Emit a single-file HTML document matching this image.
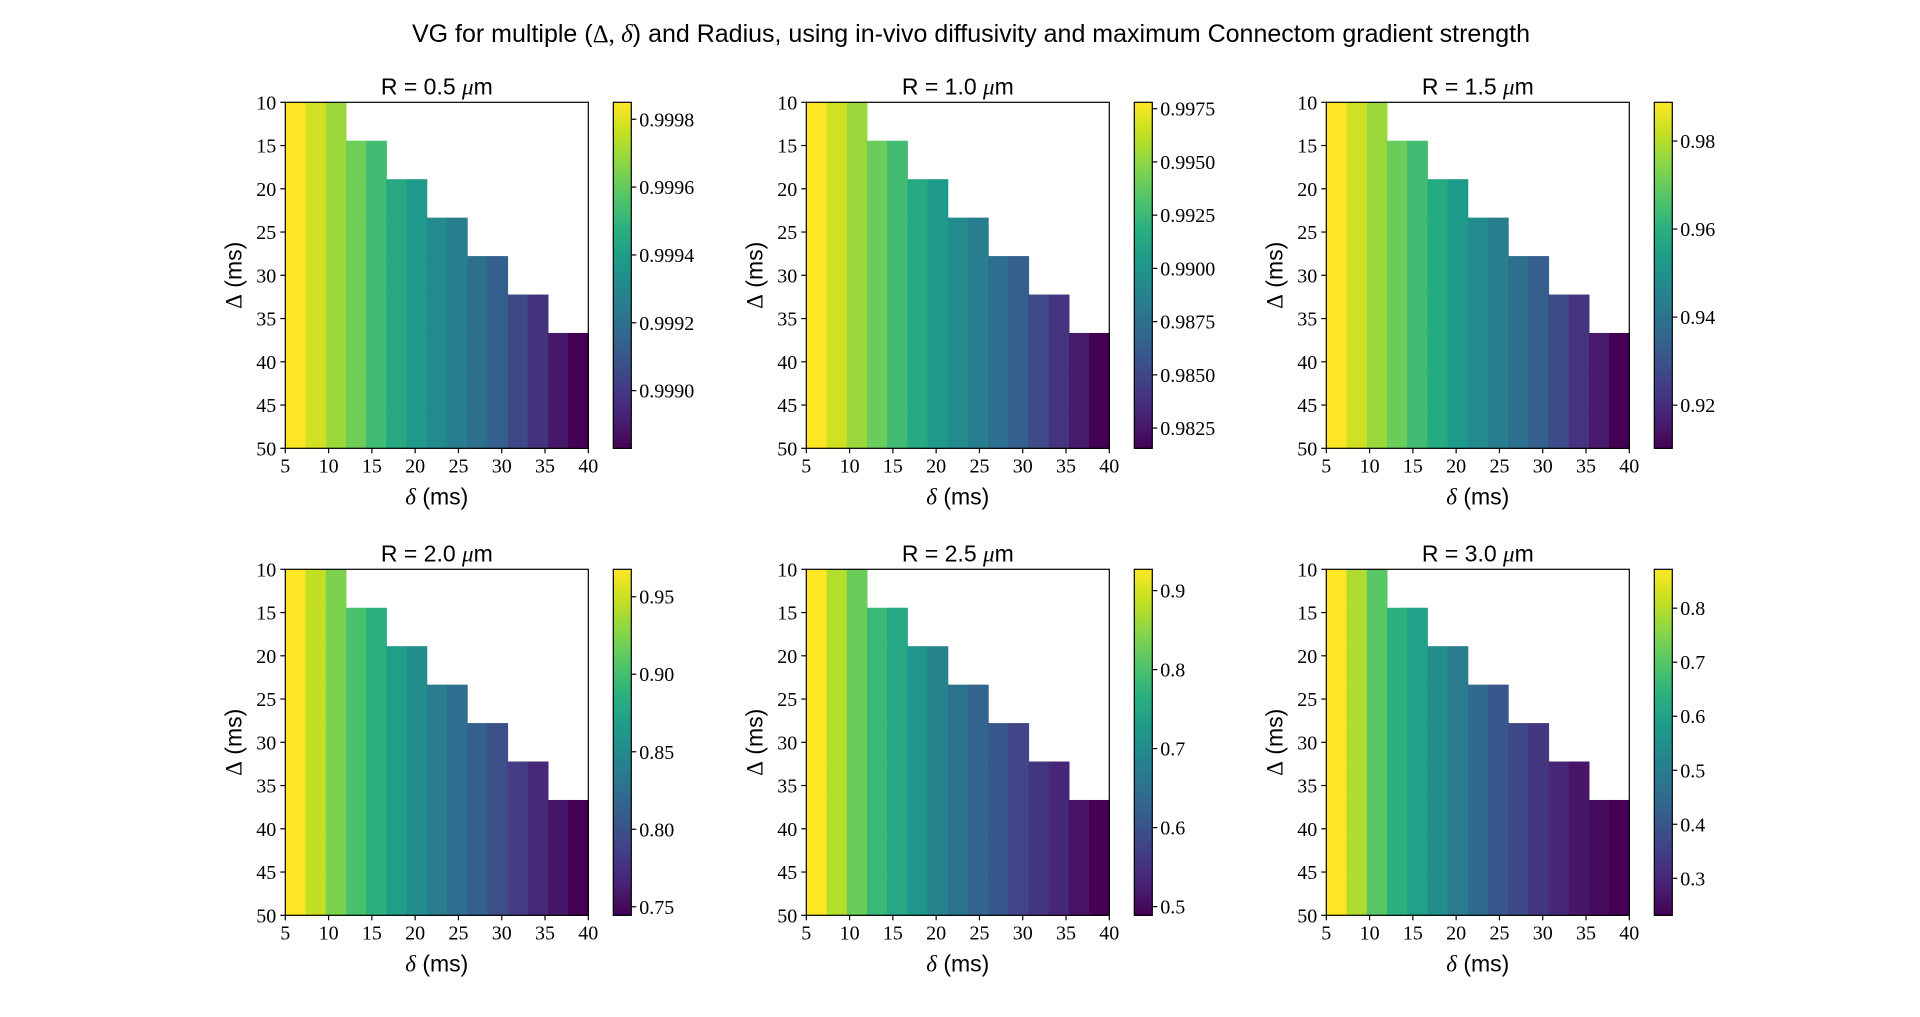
<!DOCTYPE html>
<html><head><meta charset="utf-8"><style>
html,body{margin:0;padding:0;background:#fff;width:1920px;height:1017px;overflow:hidden}
svg text{font-family:"Liberation Serif",serif}
.sans{font-family:"Liberation Sans","DejaVu Sans",sans-serif}
</style></head><body>
<svg id="fig" width="1920" height="1017" xmlns="http://www.w3.org/2000/svg">
<text class="sans" x="971" y="42" font-size="25" text-anchor="middle" style="font-family:'Liberation Sans',sans-serif">VG for multiple (<tspan style="font-family:'Liberation Serif',serif">Δ, <tspan font-style="italic">δ</tspan></tspan>) and Radius, using in-vivo diffusivity and maximum Connectom gradient strength</text>
</svg>
<script>
const radii = ["0.5","1.0","1.5","2.0","2.5","3.0"];
const deltaSmall = [5,7.5,10,12.5,15,17.5,20,22.5,25,27.5,30,32.5,35,37.5,40];
const deltaBig = [10,15,20,25,30,35,40,45,50];
const vg_r05 = [0.99985,0.99978,0.99970,0.99962,0.99953,0.99945,0.99938,0.99932,0.99926,0.99920,0.99914,0.99906,0.99898,0.99890,0.99883];
const vg_r10 = [0.99780,0.99666,0.99536,0.99406,0.99276,0.99146,0.99033,0.98935,0.98838,0.98740,0.98643,0.98529,0.98399,0.98269,0.98155];
const vg_r15 = [0.9888,0.9833,0.9770,0.9707,0.9644,0.9581,0.9526,0.9479,0.9432,0.9385,0.9338,0.9283,0.9220,0.9157,0.9102];
const vg_r20 = [0.9677,0.9476,0.9231,0.9030,0.8873,0.8695,0.8539,0.8382,0.8249,0.8115,0.7981,0.7847,0.7713,0.7579,0.7445];
const vg_r25 = [0.927,0.8788,0.8263,0.7825,0.7518,0.7168,0.6861,0.6554,0.6292,0.6073,0.5810,0.5591,0.5372,0.5109,0.489];
const vg_r30 = [0.872,0.7951,0.7055,0.6414,0.5966,0.5453,0.4941,0.4493,0.4044,0.3724,0.3340,0.3020,0.2699,0.2507,0.2315];
const xTicks = [5,10,15,20,25,30,35,40];
const yTicks = [10,15,20,25,30,35,40,45,50];
const cbTicks_r05 = [0.9990,0.9992,0.9994,0.9996,0.9998];
const cbTicks_r10 = [0.9825,0.9850,0.9875,0.9900,0.9925,0.9950,0.9975];
const cbTicks_r15 = [0.92,0.94,0.96,0.98];
const cbTicks_r20 = [0.75,0.80,0.85,0.90,0.95];
const cbTicks_r25 = [0.5,0.6,0.7,0.8,0.9];
const cbTicks_r30 = [0.3,0.4,0.5,0.6,0.7,0.8];
const cbDigits = [4,4,2,2,1,1];

const series=[vg_r05,vg_r10,vg_r15,vg_r20,vg_r25,vg_r30];
const cbt=[cbTicks_r05,cbTicks_r10,cbTicks_r15,cbTicks_r20,cbTicks_r25,cbTicks_r30];
const VIR=["#440154","#482173","#433e85","#38588c","#2d708e","#25858e","#1e9b8a","#2ab07f","#52c569","#86d549","#c2df23","#fde725"];
function hex(h){return [parseInt(h.slice(1,3),16),parseInt(h.slice(3,5),16),parseInt(h.slice(5,7),16)];}
function viridis(t){t=Math.max(0,Math.min(1,t));const p=t*(VIR.length-1);const i=Math.min(Math.floor(p),VIR.length-2);const f=p-i;const a=hex(VIR[i]),b=hex(VIR[i+1]);return "rgb("+a.map((v,k)=>Math.round(v+(b[k]-v)*f)).join(",")+")";}
const NS="http://www.w3.org/2000/svg";
const svg=document.getElementById("fig");
function mk(tag,attrs,parent){const e=document.createElementNS(NS,tag);for(const k in attrs)e.setAttribute(k,attrs[k]);(parent||svg).appendChild(e);return e;}
const lefts=[285.3,806.3,1326.3], tops=[102.3,569.3], W=303, H=346;
const dsStep=(40-5)/deltaSmall.length, dbStep=(50-10)/deltaBig.length;
for(let p=0;p<6;p++){
  const L=lefts[p%3], T=tops[Math.floor(p/3)];
  const g=mk("g",{});
  
  
  const data=series[p];
  const vmin=Math.min(...data), vmax=Math.max(...data);
  const xs=v=>L+(v-5)/35*W, ys=v=>T+(v-10)/40*H;
  for(let r=0;r<deltaBig.length;r++){
    for(let c=0;c<deltaSmall.length;c++){
      if(deltaSmall[c]>deltaBig[r])continue;
      const x0=xs(5+c*dsStep), x1=xs(5+(c+1)*dsStep), y0=ys(10+r*dbStep), y1=ys(10+(r+1)*dbStep);
      const cell=mk("rect",{x:x0,y:y0,width:x1-x0+0.6,height:y1-y0+0.6,fill:viridis((data[c]-vmin)/(vmax-vmin))},g);
      
      
    }
  }
  const fr=mk("rect",{x:L,y:T,width:W,height:H,fill:"none",stroke:"#000","stroke-width":1.2},g);
  
  
  xTicks.forEach(v=>{const x=xs(v);mk("line",{x1:x,x2:x,y1:T+H,y2:T+H+5,stroke:"#000","stroke-width":1.2},g);
    const t=mk("text",{x:x,y:T+H+24,"font-size":20,"text-anchor":"middle"},g);t.textContent=v;
    
    });
  yTicks.forEach(v=>{const y=ys(v);mk("line",{x1:L-5,x2:L,y1:y,y2:y,stroke:"#000","stroke-width":1.2},g);
    const t=mk("text",{x:L-9,y:y+7,"font-size":20,"text-anchor":"end"},g);t.textContent=v;
    
    });
  const ti=mk("text",{x:L+W/2,y:T-8,"font-size":23,"text-anchor":"middle",style:"font-family:'Liberation Sans',sans-serif"},g);
  ti.innerHTML='R = '+radii[p]+' <tspan style="font-family:\'Liberation Serif\',serif" font-style="italic">μ</tspan>m';
  
  
  const xl=mk("text",{x:L+W/2,y:T+H+56,"font-size":23,"text-anchor":"middle",style:"font-family:'Liberation Sans',sans-serif"},g);
  xl.innerHTML='<tspan style="font-family:\'Liberation Serif\',serif" font-style="italic">δ</tspan> (ms)';
  
  
  const yl=mk("text",{x:0,y:0,"font-size":23,"text-anchor":"middle",transform:"translate("+(L-44)+","+(T+H/2)+") rotate(-90)",style:"font-family:'Liberation Sans',sans-serif"},g);
  yl.innerHTML='<tspan style="font-family:\'Liberation Serif\',serif">Δ</tspan> (ms)';
  
  
  // colorbar
  const cx=L+W+25, cw=18;
  const cb=mk("g",{},g);
  
  
  const N=120;
  for(let i=0;i<N;i++){mk("rect",{x:cx,y:T+H-(i+1)*H/N,width:cw,height:H/N+0.6,fill:viridis((i+0.5)/N)},cb);}
  mk("rect",{x:cx,y:T,width:cw,height:H,fill:"none",stroke:"#000","stroke-width":1.2},cb);
  cbt[p].forEach(v=>{const y=T+H-(v-vmin)/(vmax-vmin)*H;
    mk("line",{x1:cx+cw,x2:cx+cw+5,y1:y,y2:y,stroke:"#000","stroke-width":1.2},cb);
    const t=mk("text",{x:cx+cw+8,y:y+7,"font-size":20},cb);t.textContent=v.toFixed(cbDigits[p]);
    
    });
}
</script>
</body></html>
